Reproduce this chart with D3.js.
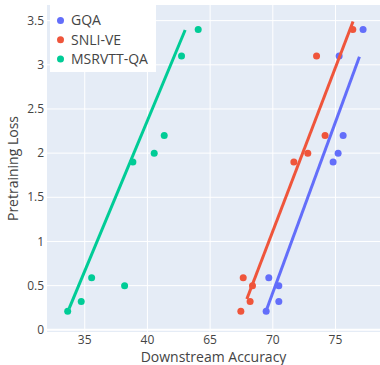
<!DOCTYPE html>
<html lang="en">
<head>
  <meta charset="UTF-8">
  <title>Pretraining Loss vs Downstream Accuracy</title>
  <script src="https://d3js.org/d3.v7.min.js"></script>
  <style>
    body {
      margin: 0;
      padding: 0;
      background: #fff;
      font-family: "Open Sans", sans-serif;
    }
    .tick-label {
      font-size: 12px;
      fill: #444;
    }
    .axis-title {
      font-size: 14px;
      fill: #444;
    }
    .legend-label {
      font-size: 14px;
      fill: #444;
    }
  </style>
</head>
<body>
  <script>
    // data
    const seriesNames = ["GQA", "SNLI-VE", "MSRVTT-QA"];
    const seriesColors = ["#636efa", "#EF553B", "#00cc96"];
    const pretrainLoss = [0.21, 0.32, 0.59, 0.5, 1.9, 2.0, 2.2, 3.1, 3.4];
    const gqaAcc = [69.47, 70.48, 69.68, 70.48, 74.81, 75.21, 75.61, 75.29, 77.2];
    const snliAcc = [67.45, 68.19, 67.64, 68.38, 71.68, 72.79, 74.17, 73.49, 76.38];
    const msrvttAcc = [33.64, 34.72, 35.55, 38.18, 38.84, 40.54, 41.34, 42.72, 44.05];

    // trend line end points (accuracy, loss)
    const gqaFitX = [69.47, 76.91], gqaFitY = [0.215, 3.09];
    const snliFitX = [67.93, 76.40], snliFitY = [0.348, 3.49];
    const msrvttFitX = [33.76, 43.01], msrvttFitY = [0.242, 3.394];

    const xTicks = [35, 40, 65, 70, 75];
    const yTicks = [0, 0.5, 1, 1.5, 2, 2.5, 3, 3.5];

    // the x axis is broken: values below 50 are drawn shifted by +20
    const breakAt = 50, breakShift = 20;
    const shiftX = v => (v < breakAt ? v + breakShift : v);

    const W = 380, H = 365;
    const plot = { left: 47, right: 380, top: 5, bottom: 332 };

    const svg = d3.select("body").append("svg")
      .attr("width", W)
      .attr("height", H);

    const x = d3.scaleLinear().domain([51.99, 78.55]).range([plot.left, plot.right]);
    const y = d3.scaleLinear().domain([-0.025, 3.677]).range([plot.bottom, plot.top]);
    const X = v => x(shiftX(v));

    svg.append("rect")
      .attr("x", plot.left)
      .attr("y", plot.top)
      .attr("width", plot.right - plot.left)
      .attr("height", plot.bottom - plot.top)
      .attr("fill", "#E5ECF6");

    // grid
    svg.append("g").selectAll("line")
      .data(xTicks)
      .join("line")
      .attr("x1", d => X(d)).attr("x2", d => X(d))
      .attr("y1", plot.top).attr("y2", plot.bottom)
      .attr("stroke", "#fff").attr("stroke-width", 1);

    svg.append("g").selectAll("line")
      .data(yTicks)
      .join("line")
      .attr("x1", plot.left).attr("x2", plot.right)
      .attr("y1", d => y(d)).attr("y2", d => y(d))
      .attr("stroke", "#fff")
      .attr("stroke-width", d => (d === 0 ? 2 : 1));

    // tick labels
    svg.append("g").selectAll("text")
      .data(yTicks)
      .join("text")
      .attr("class", "tick-label")
      .attr("x", plot.left - 3)
      .attr("y", d => y(d))
      .attr("dy", "0.35em")
      .attr("text-anchor", "end")
      .text(d => d);

    svg.append("g").selectAll("text")
      .data(xTicks)
      .join("text")
      .attr("class", "tick-label")
      .attr("x", d => X(d))
      .attr("y", plot.bottom + 12)
      .attr("text-anchor", "middle")
      .text(d => d);

    // axis titles
    svg.append("text")
      .attr("class", "axis-title")
      .attr("x", (plot.left + plot.right) / 2)
      .attr("y", 362)
      .attr("text-anchor", "middle")
      .text("Downstream Accuracy");

    svg.append("text")
      .attr("class", "axis-title")
      .attr("transform", `translate(18, ${(plot.top + plot.bottom) / 2}) rotate(-90)`)
      .attr("text-anchor", "middle")
      .text("Pretraining Loss");

    const accs = [gqaAcc, snliAcc, msrvttAcc];
    const fits = [[gqaFitX, gqaFitY], [snliFitX, snliFitY], [msrvttFitX, msrvttFitY]];

    const line = d3.line().x(d => X(d[0])).y(d => y(d[1]));

    seriesNames.forEach((name, i) => {
      const g = svg.append("g");
      g.selectAll("circle")
        .data(accs[i].map((a, j) => [a, pretrainLoss[j]]))
        .join("circle")
        .attr("cx", d => X(d[0]))
        .attr("cy", d => y(d[1]))
        .attr("r", 3.5)
        .attr("fill", seriesColors[i]);

      const [fx, fy] = fits[i];
      g.append("path")
        .datum(fx.map((v, j) => [v, fy[j]]))
        .attr("d", line)
        .attr("fill", "none")
        .attr("stroke", seriesColors[i])
        .attr("stroke-width", 3);
    });

    // legend
    const legend = svg.append("g").attr("transform", "translate(50, 5)");
    legend.append("rect")
      .attr("width", 106)
      .attr("height", 67)
      .attr("fill", "#fff");

    const item = legend.selectAll("g")
      .data(seriesNames)
      .join("g")
      .attr("transform", (d, i) => `translate(0, ${15.5 + i * 19.3})`);

    item.append("circle")
      .attr("cx", 10.5)
      .attr("cy", 0)
      .attr("r", 3.5)
      .attr("fill", (d, i) => seriesColors[i]);

    item.append("text")
      .attr("class", "legend-label")
      .attr("x", 21)
      .attr("dy", "0.35em")
      .text(d => d);
  </script>
</body>
</html>
